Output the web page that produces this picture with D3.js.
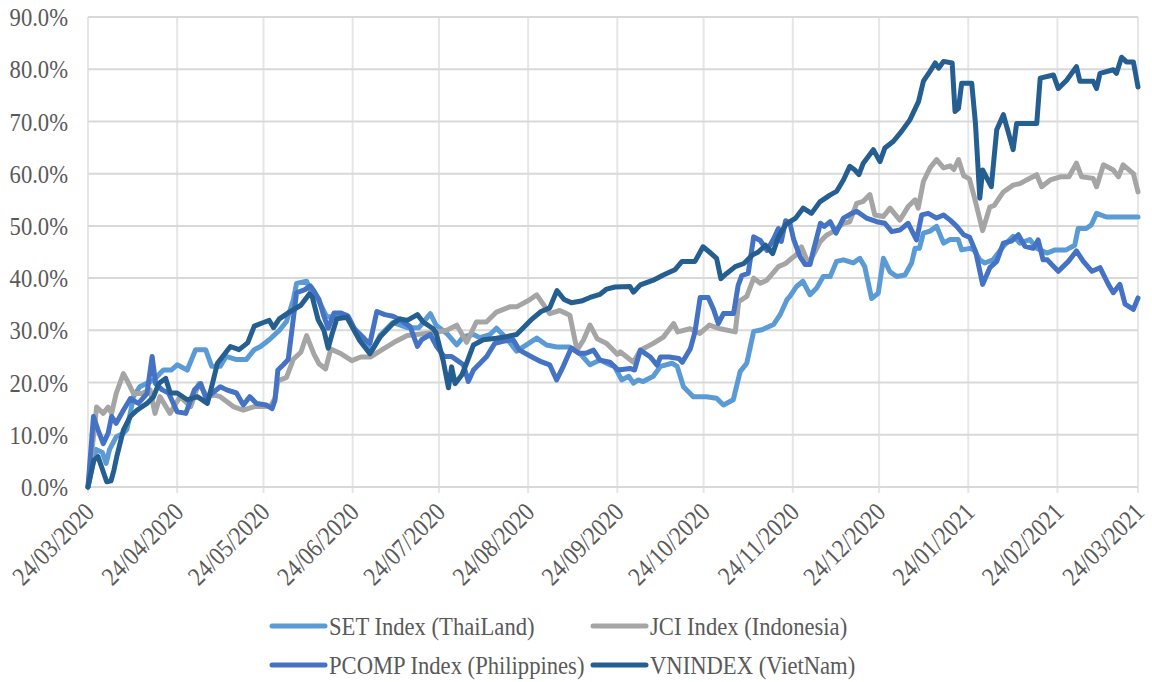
<!DOCTYPE html>
<html>
<head>
<meta charset="utf-8">
<script src="https://cdn.jsdelivr.net/npm/d3@7"></script>
<style>
    body { margin: 0; background: #fff; }
    svg text { font-family: "Liberation Serif", Tinos, "Times New Roman", "DejaVu Serif", serif; fill: #595959; }
</style>
</head>
<body>
<div id="plotRegi"></div>
<script>
// Data: [days since 24/03/2020, % return]
var startDate = "24/03/2020"

var tickLabels = ["24/03/2020", "24/04/2020", "24/05/2020", "24/06/2020", "24/07/2020", "24/08/2020",
                  "24/09/2020", "24/10/2020", "24/11/2020", "24/12/2020", "24/01/2021", "24/02/2021", "24/03/2021"]

var yTicks = [0, 10, 20, 30, 40, 50, 60, 70, 80, 90]

var seriesNames = ["SET Index (ThaiLand)", "JCI Index (Indonesia)", "PCOMP Index (Philippines)", "VNINDEX (VietNam)"]
var seriesColors = ["#5B9BD5", "#A5A5A5", "#4472C4", "#255E91"]

var setIndex = [[0,0],[2.8,7.2],[5,6.6],[6.3,4.5],[7.5,7.2],[9.8,9.6],[12.3,10.3],[13.5,11],[14.7,14.1],[15.8,17.3],
    [18,19.2],[22.8,20.5],[26.2,22.4],[29,22.4],[31,23.4],[34.5,22.4],[37.4,26.3],[40.9,26.3],[43,23.1],[46,23.1],
    [48,25],[51.6,24.4],[55,24.4],[57.8,26.3],[60,26.9],[63,28.2],[66.7,30.1],[69,31.7],[71.4,35.9],[72.5,39],
    [76,39.4],[77.7,37],[80,35.9],[83,32.6],[85,32.6],[86.5,33.2],[90,32.9],[92.3,30.5],[95.8,28.6],[98.7,26],
    [101.5,29],[106,31.5],[111,30.5],[115,30.5],[119,33.2],[121,31],[124.7,29.4],[128.2,27.2],[130.5,28.8],[134,29.2],
    [136.3,28.6],[139.7,29.2],[142,30.4],[145.5,28.5],[149,26],[152.4,27.2],[156,28.5],[159.4,27.2],[162.9,26.8],[167.5,26.8],
    [171,25.6],[174.5,23.4],[178,24.3],[181.4,23.4],[183,23.1],[185.5,20.5],[188,21.2],[189.6,19.9],[191.3,20.5],[193,20.2],
    [196.5,21.2],[199,23.1],[203,23.7],[204.8,23.1],[207,19.2],[210.4,17.3],[215,17.3],[218.5,17],[220.9,15.7],[224.3,16.7],
    [226.7,22.1],[229,23.7],[231.4,29.8],[234.3,30.1],[238.3,31.1],[240.6,33],[243,35.9],[244,36.5],[246.3,38.4],[248.5,39.4],
    [251,36.8],[253.3,38.1],[255.6,40.3],[258,40.3],[260.2,43.2],[262.6,43.5],[266,42.9],[268.3,43.8],[270,42.2],[272.4,36.1],
    [274.7,37.1],[276.5,43.8],[278.8,41.2],[281.1,40.3],[284,40.6],[286.3,42.9],[287.5,45.7],[289,45.7],[290.4,48.6],[292.7,49],
    [295,49.9],[297.4,46.7],[299.7,47.4],[302.5,47.4],[303.7,45.4],[306.6,45.7],[308,45.4],[310,43.5],[311.7,42.9],[314.6,43.5],
    [318.2,46.1],[321.6,48],[324,46.7],[327.4,47.4],[329.8,45.7],[333.3,44.8],[336.2,45.4],[340,45.4],[343,46.3],[344.2,49.5],
    [347,49.5],[348.8,50.2],[350.6,52.4],[354,51.7],[358.7,51.7],[365,51.7]]

var jciIndex = [[0,0],[3,15.3],[5.3,14.1],[7,15.3],[8.2,14.1],[9.8,17.9],[12.3,21.7],[13.5,20.5],[15.8,17.9],[18.7,17.9],
    [21.6,18.6],[23.3,14.1],[25,17.3],[28.5,14.1],[32,17.3],[35.7,15.4],[38.5,19.8],[41.5,17.3],[44,17.6],[46,17.3],
    [50.5,15.4],[54,14.7],[57.8,15.4],[61.6,15.4],[63.5,15.5],[65,17],[66,20.3],[69,21],[71.4,24.5],[74,25.8],
    [76,29],[78.5,25.5],[80.3,23.6],[82.6,22.6],[84.4,26.4],[88,25.5],[91.7,24.2],[94.8,24.9],[98.3,24.9],[101.7,26.1],
    [106.4,27.7],[111,29],[115.7,29.3],[120.3,29.6],[124.7,30],[128.2,31],[131.6,27.7],[135,31.6],[138.5,31.6],[142,33.5],
    [146.6,34.5],[149,34.5],[153.4,35.8],[156,36.8],[160.5,33.2],[164,33.8],[167.5,32.9],[170,26.2],[172.2,28.1],[174.5,31],
    [177,28.4],[180.3,27.5],[184,25.4],[185,25.9],[189.6,23.9],[192,26.2],[196.5,27.5],[200,28.7],[203.6,31.3],[205,29.7],
    [209.3,30.3],[212.7,29.4],[216,31],[219.8,30.3],[225,29.7],[226.2,35.5],[229,36.5],[231.4,40],[233.7,39],[236,39.6],
    [240,42.2],[242.5,42.8],[244,43.5],[246.3,44.5],[248,46],[250.4,42.8],[252.7,45],[254.4,46.9],[256.7,48.2],[259,48.9],
    [262.6,50.5],[264.8,50.8],[267.2,54.3],[269.5,54.7],[271.8,56],[273.5,52.1],[276.5,51.8],[278.8,53.4],[282.2,51.1],[285.1,53.7],
    [287.5,55],[288.6,53.4],[290.4,58.5],[292.7,61.1],[295,62.7],[297.4,61.1],[299.7,61.5],[301,60.8],[302.6,62.7],[304.4,59.6],
    [306.4,59],[308.1,55.5],[311,49.1],[313.5,53.6],[315,53.9],[318.2,56.5],[321.6,57.8],[324,58.1],[326.3,58.8],[329.8,59.8],
    [331.5,57.5],[334.5,58.8],[338,59.4],[341,59.4],[343.6,62],[345.4,59.4],[349.4,59.1],[350.6,57.5],[353,61.7],[356.4,60.7],
    [358.2,59.4],[359.8,61.7],[363.4,60],[365,56.5]]

var pcompIndex = [[0,0],[1.9,13.5],[3.5,10.9],[5.3,8.3],[7,10.3],[8.2,13.5],[9.8,12.2],[12.3,14.7],[14.7,16.9],[17.5,16],
    [20.5,17.9],[22.3,25],[23.5,19.8],[25.8,18.6],[28,18],[31,14.4],[34,14.1],[37,18.6],[39.2,19.8],[41,17],
    [43,17.9],[46,19.2],[48.2,18.6],[51.6,18],[54,15.7],[56.2,17.3],[58.6,16],[62,15.7],[64,15],[65,16.6],
    [66,22.4],[67.9,23.4],[69.6,24.4],[70.9,30.1],[72.5,37.2],[75.4,37.8],[77.3,38.5],[78.5,37.6],[80.3,35.9],[82,32.7],
    [83.5,30.4],[85.5,33.3],[88,33.3],[90.4,32.7],[92.8,30.1],[95.7,28.5],[98,27.5],[100.4,33.6],[103.2,33],[106,32.7],
    [108.6,32],[112,30.7],[114.5,26.9],[116,28.2],[119,29.2],[121.2,26.9],[123.8,25],[126.4,25],[128.2,24.3],[130.5,23.4],
    [132.2,20.2],[134,22.4],[136.3,23.7],[138.6,25],[141.4,27.5],[144.3,27.9],[147.8,28.2],[150,26.2],[154,25],[157.5,24],
    [160.5,23.4],[162.9,20.5],[165.2,23.1],[168,26.6],[170.7,25.6],[173,25.6],[175.7,26.2],[178,24.3],[181.4,23.9],[184.3,22.4],
    [188.4,22.7],[190,22.4],[192,26.2],[195.5,24.9],[197.8,23.3],[199,24.9],[202,24.9],[205.4,24.6],[206.6,23.9],[209.4,26.5],
    [211,29.7],[212.8,36.3],[215.6,36.3],[217.4,34.1],[219.1,31.3],[220.9,33.2],[224.4,33.2],[226,38.6],[227.3,40.5],[229.5,40.9],
    [231.4,47.9],[233.7,47.2],[236,45.3],[238.3,47.5],[240,49.5],[241,47],[242.5,51],[244,50.5],[245.3,47.4],[247.5,44.1],
    [249.3,42.6],[251,42.6],[252.3,45.6],[254.6,50.5],[256,49.9],[258,50.8],[260,48.6],[262.6,51.5],[265.5,52.4],[267.2,52.8],
    [270.6,51.5],[274.2,50.8],[277,50.5],[279.4,48.9],[282.2,49.2],[285.1,50.5],[288,47.3],[289.8,52.1],[292.1,52.4],[295,51.5],
    [297.4,52.1],[299.7,51.1],[302,49.9],[304.4,48.3],[306.5,47.8],[308.6,45],[311,38.8],[313.5,42],[315.9,43.2],[318.2,46.7],
    [321,47.1],[323.4,48.3],[325.7,46.1],[328.6,45.7],[330.3,47.3],[332,43.5],[333.5,43.5],[335,42.6],[337.3,41.3],[340.8,43.2],
    [343.6,45.2],[346,43.2],[349,41.3],[351.8,42],[354.7,38.8],[356.4,37.2],[358.7,38.8],[360.5,35],[363.4,34],[365,36.2]]

var vnIndex = [[0,0],[2,5.1],[3.5,5.8],[6.5,1],[8,1.2],[9,3.2],[10,5.8],[12.3,10.9],[14.7,13.5],[17,14.7],
    [20.5,16],[22.8,17.3],[24.6,19.8],[27,20.8],[28.6,18],[31,18],[34.5,16.7],[38,17.3],[41.5,16],[43,19.2],
    [45,23.7],[49.5,26.9],[52.5,26.3],[55.5,27.6],[57.8,30.8],[61,31.5],[63,31.9],[64.5,30.5],[66.5,32.2],[70,33.5],
    [74,34.8],[77,37],[78,36.3],[80,32],[82,30],[83.5,26.6],[85,29.6],[86.5,32.2],[90,32.5],[92,30.5],
    [94.5,28],[98,25.5],[101.5,28.7],[106,31.3],[108.5,32.2],[111,31.9],[114.5,33],[116.5,31.6],[120,30.3],[121,29.5],
    [123.5,24.1],[125.3,19],[126.4,23],[127.6,19.8],[130,21.5],[131.6,23.7],[134,27.2],[137.4,28.2],[142,28.5],[145.5,28.8],
    [149,29.2],[154,32],[157.5,33.6],[160.5,34.3],[163,37.6],[165.5,35.9],[168,35.3],[171.5,35.6],[174.5,36.3],[178,36.9],
    [180.3,37.9],[183.2,38.3],[188.4,38.4],[189.6,37.3],[192,38.7],[196.5,39.6],[200,40.6],[204,41.6],[206.5,43.2],[211,43.2],
    [213.8,46],[216,45],[218.5,43.8],[220,39.9],[222,40.9],[225,42.2],[228,42.8],[230.9,44.4],[233,45],[235.5,46.3],
    [238,44.7],[240,47.9],[242.5,50.2],[244,50.8],[246,51.5],[248.6,53.4],[251.5,52.4],[254.4,54.6],[257.9,55.9],[260.2,56.6],
    [262.6,58.8],[264.8,61.4],[266.6,60.7],[268,59.8],[269.5,62],[273,64.6],[275.3,62.3],[277,64.9],[280,66.2],[282.8,68.1],
    [285.7,70.3],[288.7,73.8],[290.4,77.7],[292.7,79.6],[294.5,81.2],[295.7,80.2],[297.4,81.5],[300.4,81.2],[301.4,71.9],[302.6,72.5],
    [303.7,77.3],[307.2,77.3],[308.5,69.6],[310,55.3],[311,60.7],[314,57.5],[315.9,68.4],[318.2,71.3],[321.6,64.6],[322.8,69.6],
    [329.8,69.6],[331,78.3],[335.6,78.9],[337.3,76.3],[340.2,77.9],[343.6,80.5],[344.8,77.7],[349.4,77.7],[350.6,76.3],[351.8,79.2],
    [356.4,79.9],[357.5,79.2],[359.3,82.3],[361,81.4],[363.4,81.4],[365,76.6]]

var allSeries = [setIndex, jciIndex, pcompIndex, vnIndex]

function drawChart() {
    var width = 1152, height = 682
    var parseDate = d3.timeParse("%d/%m/%Y")
    var start = parseDate(startDate)
    var sx = 0.87  // narrow the serif glyphs a bit
    var fontStack = "'Liberation Serif', Tinos, 'Times New Roman', 'DejaVu Serif', serif"

    var scale_x = d3
        .scaleTime()
        .domain([start, parseDate(tickLabels[tickLabels.length - 1])])
        .range([88, 1138])

    var scale_y = d3
        .scaleLinear()
        .domain([0, 90])
        .range([487, 17])

    var svg = d3
        .select("#plotRegi")
        .append("svg")
        .attr("width", width)
        .attr("height", height)

    // Vertical gridlines at each month
    svg.append("g")
        .selectAll("line")
        .data(tickLabels)
        .enter()
        .append("line")
        .attr("x1", d => scale_x(parseDate(d)))
        .attr("x2", d => scale_x(parseDate(d)))
        .attr("y1", scale_y(90))
        .attr("y2", scale_y(0) + 6)
        .style("stroke", "#E6E6E6")
        .style("stroke-width", 2)

    // Horizontal gridlines
    svg.append("g")
        .selectAll("line")
        .data(yTicks)
        .enter()
        .append("line")
        .attr("x1", scale_x.range()[0])
        .attr("x2", scale_x.range()[1])
        .attr("y1", d => scale_y(d))
        .attr("y2", d => scale_y(d))
        .style("stroke", "#D9D9D9")
        .style("stroke-width", 2)

    // Y labels
    svg.append("g")
        .selectAll("text")
        .data(yTicks)
        .enter()
        .append("text")
        .attr("transform", d => "translate(68," + scale_y(d) + ") scale(" + sx + ",1)")
        .attr("dy", "0.35em")
        .attr("text-anchor", "end")
        .attr("font-family", fontStack)
        .style("font-size", "26px")
        .text(d => d3.format(".1f")(d) + "%")

    // X labels, rotated
    svg.append("g")
        .selectAll("text")
        .data(tickLabels)
        .enter()
        .append("text")
        .attr("transform", d => "translate(" + (scale_x(parseDate(d)) - 5) + ",501) rotate(-45) scale(" + sx + ",1)")
        .attr("dy", "0.7em")
        .attr("text-anchor", "end")
        .attr("font-family", fontStack)
        .style("font-size", "26px")
        .text(d => d)

    // Lines
    var line = d3.line()
        .x(d => scale_x(new Date(start.getTime() + d[0] * 864e5)))
        .y(d => scale_y(d[1]))

    svg.append("g")
        .selectAll("path")
        .data(allSeries)
        .enter()
        .append("path")
        .attr("d", line)
        .style("fill", "none")
        .style("stroke", (d, i) => seriesColors[i])
        .style("stroke-width", 5)
        .style("stroke-linejoin", "round")
        .style("stroke-linecap", "round")

    // Legend
    var legX = [272, 593], legY = [626, 665]
    var leg = svg.append("g")
        .selectAll("g")
        .data(seriesNames)
        .enter()
        .append("g")
        .attr("transform", (d, i) => "translate(" + legX[i % 2] + "," + legY[Math.floor(i / 2)] + ")")

    leg.append("line")
        .attr("x1", 0)
        .attr("x2", 53)
        .style("stroke", (d, i) => seriesColors[i])
        .style("stroke-width", 5)
        .style("stroke-linecap", "round")

    leg.append("text")
        .attr("transform", "translate(57,0) scale(" + sx + ",1)")
        .attr("dy", "0.35em")
        .attr("font-family", fontStack)
        .style("font-size", "26px")
        .text(d => d)
}

drawChart()
</script>
</body>
</html>
